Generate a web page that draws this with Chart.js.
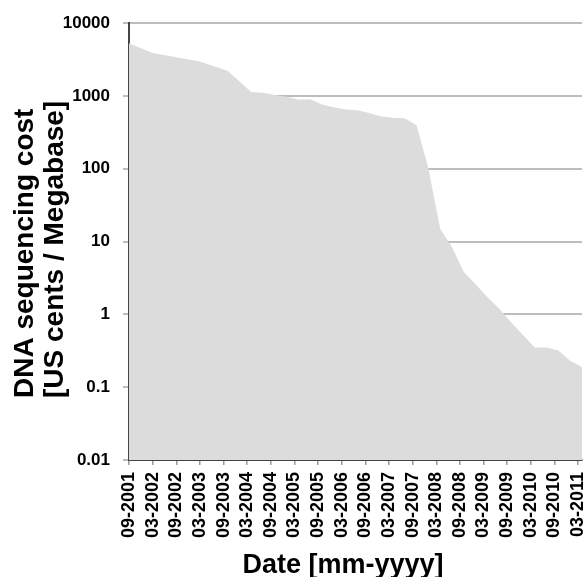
<!DOCTYPE html>
<html>
<head>
<meta charset="utf-8">
<script src="https://cdn.jsdelivr.net/npm/chart.js@4"></script>
<style>
  body { margin: 0; background: #fff; }
  canvas { display: block; }
</style>
</head>
<body>
<canvas id="grafico" width="585" height="577"></canvas>
<script>
// fechas de cada punto (mm-yyyy)
const dates = [
  '09-2001', '03-2002', '09-2002', '03-2003', '10-2003',
  '01-2004', '04-2004', '07-2004', '10-2004',
  '01-2005', '04-2005', '07-2005', '10-2005',
  '01-2006', '04-2006', '07-2006', '10-2006',
  '01-2007', '04-2007', '07-2007', '10-2007',
  '01-2008', '04-2008', '07-2008', '10-2008',
  '01-2009', '04-2009', '07-2009', '10-2009',
  '01-2010', '04-2010', '07-2010', '10-2010',
  '01-2011', '04-2011'
];

// costo por megabase
const costs = [
  5292, 3899, 3414, 2986, 2231,
  1599, 1136, 1107, 1029,
  974, 898, 899, 767,
  699, 652, 636, 582,
  523, 503, 496, 397,
  102, 15.0, 8.36, 3.81,
  2.59, 1.72, 1.20, 0.78,
  0.52, 0.35, 0.35, 0.32,
  0.23, 0.19
];

// etiquetas del eje x
const tickLabels = [
  '09-2001', '03-2002', '09-2002', '03-2003', '09-2003', '03-2004', '09-2004',
  '03-2005', '09-2005', '03-2006', '09-2006', '03-2007', '09-2007', '03-2008',
  '09-2008', '03-2009', '09-2009', '03-2010', '09-2010', '03-2011'
];

const yTicks = [0.01, 0.1, 1, 10, 100, 1000, 10000];

const yTitle = ['DNA sequencing cost', '[US cents / Megabase]'];
const xTitle = 'Date [mm-yyyy]';

// meses desde 09-2001
function toMonth(s) {
  const [mm, yyyy] = s.split('-').map(Number);
  return (yyyy - 2001) * 12 + mm - 9;
}

const FONT = '"Liberation Sans", Arial, sans-serif';

const points = dates.map((d, i) => ({ x: toMonth(d), y: costs[i] }));

// titulos de los ejes dibujados a mano
const axisTitles = {
  id: 'axisTitles',
  afterDraw(chart) {
    const ctx = chart.ctx;
    ctx.save();
    ctx.fillStyle = '#000';
    ctx.font = 'bold 28px ' + FONT;
    ctx.textAlign = 'left';
    ctx.textBaseline = 'alphabetic';
    yTitle.forEach((line, i) => {
      ctx.save();
      ctx.translate(33 + i * 30, 398);
      ctx.rotate(-Math.PI / 2);
      ctx.fillText(line, 0, 0);
      ctx.restore();
    });
    ctx.font = 'bold 27px ' + FONT;
    ctx.textAlign = 'center';
    ctx.fillText(xTitle, 343, 573);
    ctx.restore();
  }
};

const config = {
  type: 'line',
  data: {
    datasets: [{
      data: points,
      fill: 'start',
      backgroundColor: '#dcdcdc',
      borderWidth: 0,
      pointRadius: 0,
      tension: 0
    }]
  },
  options: {
    responsive: false,
    animation: false,
    devicePixelRatio: 1,
    layout: { padding: { top: 21, right: 3, left: 0, bottom: 0 } },
    plugins: {
      legend: { display: false },
      tooltip: { enabled: false }
    },
    scales: {
      x: {
        type: 'linear',
        min: 0,
        max: toMonth('04-2011'),
        afterBuildTicks: s => { s.ticks = tickLabels.map(l => ({ value: toMonth(l) })); },
        afterFit: s => { s.height = 117; s.paddingRight = 0; s.paddingLeft = 0; },
        ticks: {
          autoSkip: false,
          minRotation: 90,
          maxRotation: 90,
          padding: 7,
          color: '#000',
          font: { family: FONT, size: 18, weight: 'bold' },
          callback: function(value) {
            const l = tickLabels.find(t => toMonth(t) === value);
            return l || '';
          }
        },
        grid: { drawOnChartArea: false, tickLength: 5, color: '#9a9a9a', lineWidth: 1.5 },
        border: { color: '#444', width: 2 }
      },
      y: {
        type: 'logarithmic',
        min: 0.01,
        max: 10000,
        afterBuildTicks: s => { s.ticks = yTicks.map(v => ({ value: v })); },
        afterFit: s => { s.width = 129; },
        ticks: {
          padding: 13,
          color: '#000',
          font: { family: FONT, size: 17, weight: 'bold' },
          callback: value => String(value)
        },
        grid: { color: '#bdbdbd', lineWidth: 2, tickLength: 6 },
        border: { color: '#444', width: 2 }
      }
    }
  },
  plugins: [axisTitles]
};

const myChart = new Chart(document.getElementById('grafico'), config);
</script>
</body>
</html>
